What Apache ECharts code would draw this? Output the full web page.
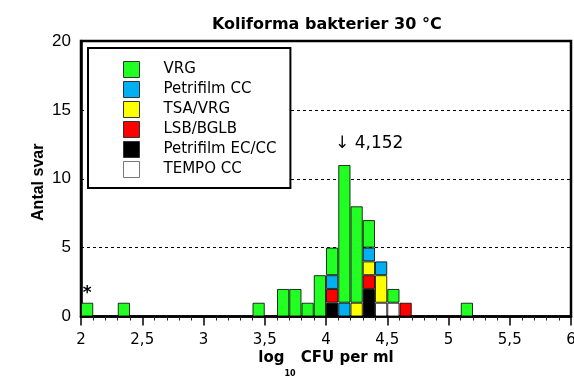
<!DOCTYPE html>
<html>
<head>
<meta charset="utf-8">
<script src="https://cdn.jsdelivr.net/npm/echarts@6/dist/echarts.min.js"></script>
<style>html,body{margin:0;padding:0;background:#fff;}#c{width:574px;height:376px;}</style>
</head>
<body>
<div id="c"></div>
<script>
// Bin lower edges (log10 CFU per ml), bin width 0.1
const bins = ['2.0','2.1','2.2','2.3','2.4','2.5','2.6','2.7','2.8','2.9',
              '3.0','3.1','3.2','3.3','3.4','3.5','3.6','3.7','3.8','3.9',
              '4.0','4.1','4.2','4.3','4.4','4.5','4.6','4.7','4.8','4.9',
              '5.0','5.1','5.2','5.3','5.4','5.5','5.6','5.7','5.8','5.9'];
// Counts per method
const vrg         = [1,0,0,1,0,0,0,0,0,0, 0,0,0,0,1,0,2,2,1,3, 2,10,7,2,0,1,0,0,0,0, 0,1,0,0,0,0,0,0,0,0];
const petrifilmCC = [0,0,0,0,0,0,0,0,0,0, 0,0,0,0,0,0,0,0,0,0, 1,1,0,1,1,0,0,0,0,0, 0,0,0,0,0,0,0,0,0,0];
const tsaVrg      = [0,0,0,0,0,0,0,0,0,0, 0,0,0,0,0,0,0,0,0,0, 0,0,1,1,2,0,0,0,0,0, 0,0,0,0,0,0,0,0,0,0];
const lsbBglb     = [0,0,0,0,0,0,0,0,0,0, 0,0,0,0,0,0,0,0,0,0, 1,0,0,1,0,0,1,0,0,0, 0,0,0,0,0,0,0,0,0,0];
const petrifilmEC = [0,0,0,0,0,0,0,0,0,0, 0,0,0,0,0,0,0,0,0,0, 1,0,0,2,0,0,0,0,0,0, 0,0,0,0,0,0,0,0,0,0];
const tempoCC     = [0,0,0,0,0,0,0,0,0,0, 0,0,0,0,0,0,0,0,0,0, 0,0,0,0,1,1,0,0,0,0, 0,0,0,0,0,0,0,0,0,0];
// Axis ticks
const xMin = 2, xMax = 6, xStep = 0.5;
const yMin = 0, yMax = 20, yStep = 5;
// Median annotation
const median = 4.152;
const medianLabelY = 12.55;
const outlierIndex = 0;

const methods = [
  {name:'TEMPO CC',        data: tempoCC,     color:'#FFFFFF'},
  {name:'Petrifilm EC/CC', data: petrifilmEC, color:'#000000'},
  {name:'LSB/BGLB',        data: lsbBglb,     color:'#FF0000'},
  {name:'TSA/VRG',         data: tsaVrg,      color:'#FFFF00'},
  {name:'Petrifilm CC',    data: petrifilmCC, color:'#00B0F0'},
  {name:'VRG',             data: vrg,         color:'#22FF22'}
];
const legendOrder = ['VRG','Petrifilm CC','TSA/VRG','LSB/BGLB','Petrifilm EC/CC','TEMPO CC'];

const series = methods.map(m => ({
  name: m.name,
  type: 'bar',
  stack: 'all',
  xAxisIndex: 0,
  barCategoryGap: '0%',
  data: m.data.map(v => v === 0 ? '-' : v),
  itemStyle: {color: m.color, borderColor: 'rgba(0,0,0,0.8)', borderWidth: 1},
  label: m.name === 'VRG' ? {
    show: true, position: 'top', distance: 1,
    formatter: p => p.dataIndex === outlierIndex ? '*' : '',
    fontFamily: 'DejaVu Sans', fontWeight: 'bold', fontSize: 17, color: '#000'
  } : {show: false},
  emphasis: {disabled: true},
  z: 3
}));
series.push({
  name: 'median',
  type: 'scatter',
  xAxisIndex: 1,
  symbolSize: 0,
  data: [[median, medianLabelY]],
  label: {show: true, position: 'inside', align: 'left', offset: [-9.5, 0],
          formatter: '\u2193 4,152', fontFamily: 'DejaVu Sans', fontSize: 17, color: '#000', opacity: 1},
  itemStyle: {opacity: 1},
  emphasis: {disabled: true},
  silent: true,
  z: 5
});

const chart = echarts.init(document.getElementById('c'), null, {renderer: 'canvas'});
chart.setOption({
  animation: false,
  backgroundColor: '#fff',
  title: {
    text: 'Koliforma bakterier 30 \u00B0C',
    left: 207, top: 12,
    textStyle: {fontFamily: 'DejaVu Sans', fontWeight: 'bold', fontSize: 16, color: '#000'}
  },
  grid: {left: 81, right: 3, top: 41, bottom: 59.5, outerBoundsMode: 'none', containLabel: false,
         show: true, borderColor: '#000', borderWidth: 2.5, backgroundColor: 'transparent'},
  legend: {
    data: legendOrder.map(n => n === 'TEMPO CC'
      ? {name: n, itemStyle: {borderColor: '#777', borderWidth: 1}}
      : {name: n, itemStyle: {borderColor: '#333', borderWidth: 1}}),
    orient: 'vertical',
    left: 88, top: 48,
    padding: [13, 14, 10, 35],
    itemWidth: 16, itemHeight: 16, itemGap: 3,
    icon: 'rect',
    backgroundColor: '#fff',
    borderColor: '#000', borderWidth: 2,
    textStyle: {fontFamily: 'DejaVu Sans', fontSize: 15, color: '#000', lineHeight: 17, padding: [0,0,0,19]},
    selectedMode: false,
    z: 10
  },
  xAxis: [
    {type: 'category', data: bins, show: false, boundaryGap: true, position: 'bottom'},
    {type: 'value', min: xMin, max: xMax, interval: xStep, position: 'bottom',
     axisLine: {show: true, lineStyle: {color: '#000', width: 2.5}},
     axisTick: {show: true, length: 9, lineStyle: {color: '#000', width: 1.5}},
     minorTick: {show: true, splitNumber: 5, length: 4, lineStyle: {color: '#222', width: 1}},
     splitLine: {show: false},
     axisLabel: {margin: 16, fontFamily: 'DejaVu Sans', fontSize: 15, color: '#000',
                 formatter: v => String(v).replace('.', ',')},
     name: '{a|log}{b|10}{a| CFU per ml}',
     nameLocation: 'middle', nameGap: 23, nameMoveOverlap: false,
     nameTextStyle: {
       rich: {
         a: {fontFamily: 'DejaVu Sans', fontWeight: 'bold', fontSize: 15, color: '#000'},
         b: {fontFamily: 'DejaVu Sans', fontWeight: 'bold', fontSize: 8, color: '#000', padding: [30, 0, 0, 0]}
       }
     }
    }
  ],
  yAxis: {
    type: 'value', min: yMin, max: yMax, interval: yStep,
    axisLine: {show: true, lineStyle: {color: '#000', width: 2.5}},
    axisTick: {show: false},
    splitLine: {show: true, lineStyle: {color: '#000', width: 1, type: [3, 3]}},
    axisLabel: {margin: 10, fontFamily: 'Liberation Sans', fontSize: 17, color: '#000'},
    name: 'Antal svar', nameLocation: 'middle', nameGap: 34, nameRotate: 90, nameMoveOverlap: false,
    nameTextStyle: {fontFamily: 'Liberation Sans', fontWeight: 'bold', fontSize: 16, color: '#000', padding: [0, 7, 0, 0]}
  },
  series: series
});
</script>
</body>
</html>
